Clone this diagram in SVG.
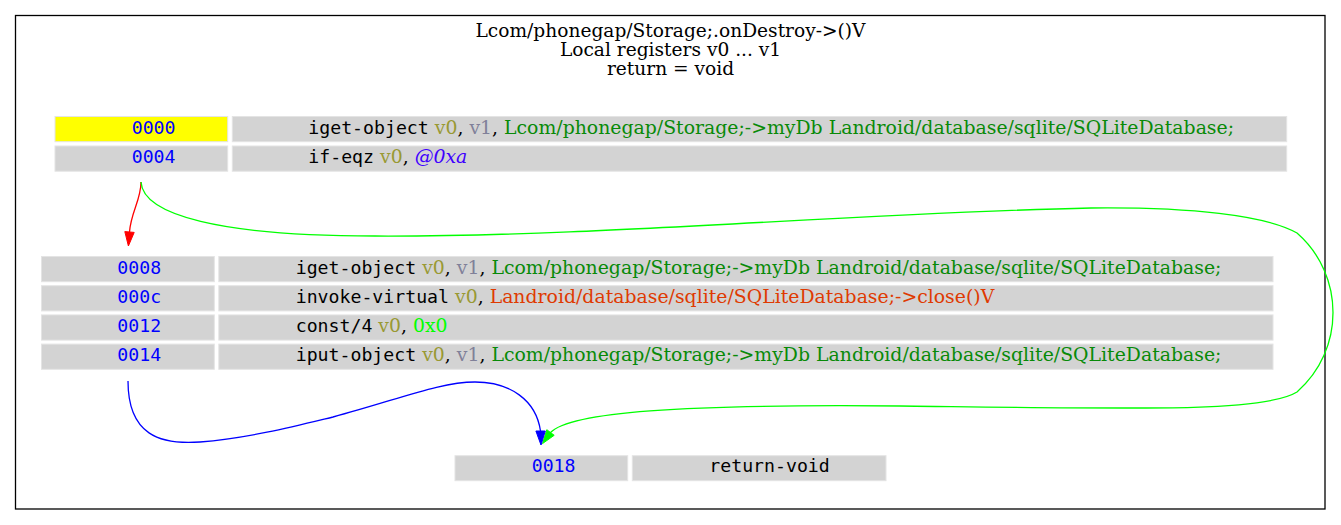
<svg xmlns="http://www.w3.org/2000/svg" width="1341" height="525" viewBox="0 0 1341 525">
<style>
.t{font-family:"DejaVu Serif","Liberation Serif",serif;font-size:18.6px;fill:#000}
.row{font-size:18.85px}
.m{font-family:"DejaVu Sans Mono","Liberation Mono",monospace;font-size:18.2px}
.addr{fill:#0000ff}
.op{fill:#000000}
.r0{fill:#999933}
.r1{fill:#808099}
.fld{fill:#088A08}
.mth{fill:#DF3A01}
.lit{fill:#00ff00}
.off{fill:#4000FF;font-style:italic}
.cell{fill:#d3d3d3;stroke:#e4e4e4;stroke-width:1}
.start{fill:#ffff00;stroke:#e4e4e4;stroke-width:1}
.e{fill:none;stroke-width:1.3}
</style>
<rect x="15.5" y="15.5" width="1309.5" height="493.5" fill="#ffffff" stroke="#000000" stroke-width="1.3"/>
<g id="title">
<text class="t" x="670.5" y="36.5" text-anchor="middle">Lcom/phonegap/Storage;.onDestroy-&gt;()V</text>
<text class="t" x="670.5" y="55.5" text-anchor="middle">Local registers v0 ... v1</text>
<text class="t" x="670.5" y="74.5" text-anchor="middle">return = void</text>
</g>
<g id="node0000">
<rect class="start" x="55" y="116.5" width="172.7" height="25.2"/>
<rect class="cell" x="232.3" y="116.5" width="1054.4" height="25.2"/>
<rect class="cell" x="55" y="146" width="172.7" height="25.2"/>
<rect class="cell" x="232.3" y="146" width="1054.4" height="25.2"/>
<text class="m addr" x="131.7" y="134">0000</text>
<text class="t row" x="308.3" y="134"><tspan class="m op">iget-object</tspan> <tspan class="r0">v0</tspan>, <tspan class="r1">v1</tspan>, <tspan class="fld">Lcom/phonegap/Storage;-&gt;myDb Landroid/database/sqlite/SQLiteDatabase;</tspan></text>
<text class="m addr" x="131.7" y="162.5">0004</text>
<text class="t row" x="308.3" y="162.5"><tspan class="m op">if-eqz</tspan> <tspan class="r0">v0</tspan>, <tspan class="off">@0xa</tspan></text>
</g>
<g id="node0008">
<rect class="cell" x="41.5" y="256.5" width="172.8" height="25.2"/>
<rect class="cell" x="218.8" y="256.5" width="1054.2" height="25.2"/>
<rect class="cell" x="41.5" y="285.7" width="172.8" height="25.2"/>
<rect class="cell" x="218.8" y="285.7" width="1054.2" height="25.2"/>
<rect class="cell" x="41.5" y="314.9" width="172.8" height="25.2"/>
<rect class="cell" x="218.8" y="314.9" width="1054.2" height="25.2"/>
<rect class="cell" x="41.5" y="344.1" width="172.8" height="25.2"/>
<rect class="cell" x="218.8" y="344.1" width="1054.2" height="25.2"/>
<text class="m addr" x="117.3" y="273.5">0008</text>
<text class="t row" x="295.7" y="273.5"><tspan class="m op">iget-object</tspan> <tspan class="r0">v0</tspan>, <tspan class="r1">v1</tspan>, <tspan class="fld">Lcom/phonegap/Storage;-&gt;myDb Landroid/database/sqlite/SQLiteDatabase;</tspan></text>
<text class="m addr" x="117.3" y="302.5">000c</text>
<text class="t row" x="295.7" y="302.5"><tspan class="m op">invoke-virtual</tspan> <tspan class="r0">v0</tspan>, <tspan class="mth">Landroid/database/sqlite/SQLiteDatabase;-&gt;close()V</tspan></text>
<text class="m addr" x="117.3" y="332">0012</text>
<text class="t row" x="295.7" y="332"><tspan class="m op">const/4</tspan> <tspan class="r0">v0</tspan>, <tspan class="lit">0x0</tspan></text>
<text class="m addr" x="117.3" y="361.3">0014</text>
<text class="t row" x="295.7" y="361.3"><tspan class="m op">iput-object</tspan> <tspan class="r0">v0</tspan>, <tspan class="r1">v1</tspan>, <tspan class="fld">Lcom/phonegap/Storage;-&gt;myDb Landroid/database/sqlite/SQLiteDatabase;</tspan></text>
</g>
<g id="node0018">
<rect class="cell" x="455" y="455.7" width="172.7" height="25"/>
<rect class="cell" x="632.3" y="455.7" width="253.7" height="25"/>
<text class="m addr" x="531.7" y="472">0018</text>
<text class="m op" x="709.3" y="472">return-void</text>
</g>
<g id="connectors">
<path class="e" stroke="#ff0000" d="M141,182 C141,200 131,212 129.5,232"/>
<polygon fill="#ff0000" stroke="#ff0000" stroke-width="1" points="124.8,231.6 128.4,246 134.2,232.4"/>
<path class="e" stroke="#00ff00" d="M141,182 C143,215 220,236 375,236 C600,237 850,213 1091,208 C1190,207 1265,215 1297,233 C1345,275 1345,350 1297,392 C1265,412 1150,409 900,406 C680,404 570,412 550.5,432.5"/>
<polygon fill="#00ff00" stroke="#00ff00" stroke-width="1" points="554.2,435.3 542.5,443.6 546.8,429.7"/>
<path class="e" stroke="#0000ff" d="M128,381 C128,435 160,445 200,442 C250,438 300,425 333,417 C400,399 440,382 475,382 C510,382 536,400 540.5,431"/>
<polygon fill="#0000ff" stroke="#0000ff" stroke-width="1" points="535.9,431 541,445 545.3,431"/>
</g>
</svg>
